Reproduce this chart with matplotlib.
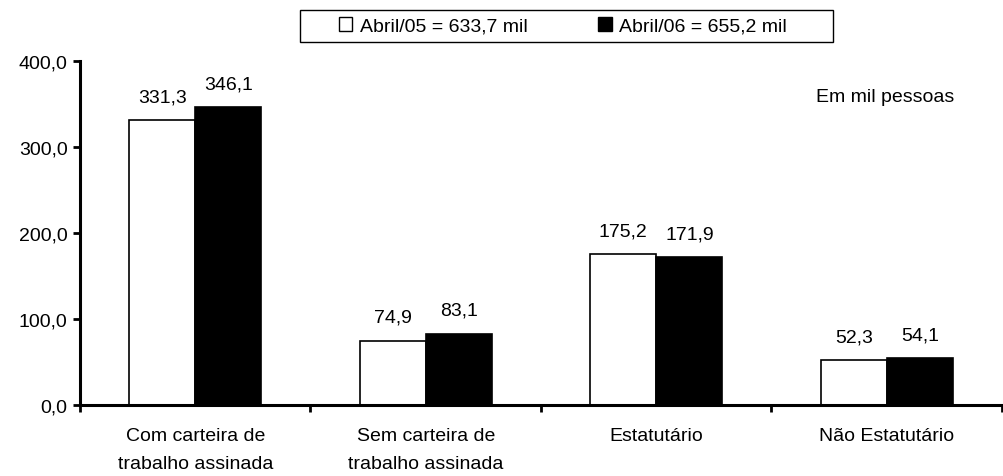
import numpy as np
import matplotlib
matplotlib.use("Agg")
import matplotlib.pyplot as plt
from matplotlib.ticker import FuncFormatter, FixedLocator
from matplotlib.patches import Patch, Rectangle

plt.rcParams["font.family"] = ["Liberation Sans", "DejaVu Sans"]

categories = ["Com carteira de\ntrabalho assinada", "Sem carteira de\ntrabalho assinada",
              "Estatutário", "Não Estatutário"]
abril05 = [331.3, 74.9, 175.2, 52.3]
abril06 = [346.1, 83.1, 171.9, 54.1]
series_names = ["Abril/05 = 633,7 mil", "Abril/06 = 655,2 mil"]

FS = 14

fig = plt.figure(figsize=(10.04, 4.77), dpi=100)
ax = fig.add_axes([80 / 1004, 71 / 477, 922 / 1004, 344 / 477])

x = np.arange(len(categories))
w = 0.287
b1 = ax.bar(x - w / 2, abril05, w, color="white", edgecolor="black", linewidth=1.2, zorder=2)
b2 = ax.bar(x + w / 2, abril06, w, color="black", edgecolor="black", linewidth=1.2, zorder=2)

def fmt(v):
    return f"{v:.1f}".replace(".", ",")

for bars, vals in ((b1, abril05), (b2, abril06)):
    for r, v in zip(bars, vals):
        ax.annotate(fmt(v), (r.get_x() + r.get_width() / 2, v), xytext=(0, 13.5),
                    textcoords="offset points", ha="center", va="baseline", fontsize=FS)

ax.set_xlim(-0.5, len(categories) - 0.5)
ax.set_ylim(0, 400)
ax.set_yticks([0, 100, 200, 300, 400])
ax.yaxis.set_major_formatter(FuncFormatter(lambda v, p: fmt(v)))

ax.set_xticks(x)
ax.set_xticklabels(categories, fontsize=FS, linespacing=1.8)
ax.xaxis.set_minor_locator(FixedLocator(np.arange(-0.5, len(categories), 1.0)))
ax.tick_params(axis="x", which="major", length=0, pad=16)
ax.tick_params(axis="x", which="minor", length=5, width=2, direction="out")
ax.tick_params(axis="y", length=5, width=2, direction="out", pad=4, labelsize=FS)

for s in ("top", "right"):
    ax.spines[s].set_visible(False)
for s in ("left", "bottom"):
    ax.spines[s].set_linewidth(2.2)
    ax.spines[s].set_zorder(3)

ax.text(0.873, 0.898, "Em mil pessoas", transform=ax.transAxes, ha="center", va="center",
        fontsize=FS)

# legend box
fig.patches.append(Rectangle((300 / 1004, 1 - 43 / 477), 533 / 1004, 32 / 477,
                             transform=fig.transFigure, facecolor="white",
                             edgecolor="black", linewidth=1))
handles = [Patch(facecolor="white", edgecolor="black", linewidth=1),
           Patch(facecolor="black", edgecolor="black", linewidth=1)]
leg = fig.legend(handles, series_names, loc="center", bbox_to_anchor=(563 / 1004, 1 - 27 / 477),
                 ncol=2, fontsize=FS, frameon=False,
                 handlelength=0.7, handleheight=0.7, handletextpad=0.4, columnspacing=3.6,
                 borderpad=0.2, borderaxespad=0)

fig.savefig("out.png", dpi=100, facecolor="white")
